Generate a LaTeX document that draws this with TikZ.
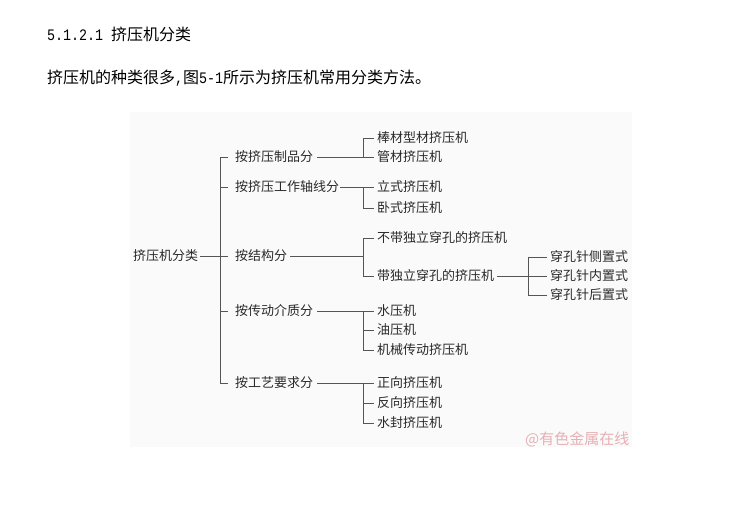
\documentclass[tikz,border=0pt]{standalone}
\usepackage{fontspec}
\setmainfont{Noto Sans CJK SC}
\newfontfamily\monofnt{Liberation Mono}
\newcommand\mymono[1]{\scalebox{0.833}[1]{\monofnt\fontsize{16}{16}\selectfont #1}}
\definecolor{txt}{HTML}{2A2A2A}
\definecolor{lncol}{HTML}{555555}
\definecolor{bgc}{HTML}{FAFAFA}
\definecolor{wm}{HTML}{E6B0B5}
\begin{document}
\begin{tikzpicture}[x=1pt,y=-1pt,
  head/.style={anchor=west,inner sep=0pt,font=\fontsize{16}{16}\selectfont,text=black},
  lbl/.style={anchor=west,inner sep=0pt,font=\fontsize{13}{13}\selectfont,text=txt},
  ln/.style={draw=lncol,line width=0.9pt}]
\useasboundingbox (0,0) rectangle (730,505);
\fill[bgc] (130,112) rectangle (632,447);

\node[head] (title) at (47,34) {\mymono{5.1.2.1}\hspace{8pt}挤压机分类};
\node[head] (intro) at (47,78) {挤压机的种类很多\mymono{,}图\mymono{5-1}所示为挤压机常用分类方法。};

% root and level 1
\node[lbl] (root) at (133,256) {挤压机分类};
\coordinate (t1) at (220,157);
\coordinate (t3) at (220,256);
\coordinate (t5) at (220,383);
\node[lbl] (a1) at (235,157) {按挤压制品分};
\node[lbl] (a2) at (235,187) {按挤压工作轴线分};
\node[lbl] (a3) at (235,256) {按结构分};
\node[lbl] (a4) at (235,311) {按传动介质分};
\node[lbl] (a5) at (235,383) {按工艺要求分};

\draw[ln,shorten <=2pt] (root.east) -- (t3);
\draw[ln] ([xshift=-7pt]a1.west) -| (t5) -- ([xshift=-7pt]a5.west);
\foreach \n in {a2,a3,a4} \draw[ln] (t1 |- \n.west) -- ([xshift=-7pt]\n.west);

% level 2
\coordinate (vx) at (363,0);
\node[lbl] (b11) at (377,138) {棒材型材挤压机};
\node[lbl] (b12) at (377,157) {管材挤压机};
\node[lbl] (b21) at (377,187) {立式挤压机};
\node[lbl] (b22) at (377,208) {卧式挤压机};
\node[lbl] (b31) at (377,238) {不带独立穿孔的挤压机};
\node[lbl] (b32) at (377,276) {带独立穿孔的挤压机};
\node[lbl] (b41) at (377,311) {水压机};
\node[lbl] (b42) at (377,330) {油压机};
\node[lbl] (b43) at (377,350) {机械传动挤压机};
\node[lbl] (b51) at (377,383) {正向挤压机};
\node[lbl] (b52) at (377,403) {反向挤压机};
\node[lbl] (b53) at (377,423) {水封挤压机};

\draw[ln,shorten <=4pt] (a1.east) -- (a1.east -| vx);
\draw[ln] ([xshift=-3pt]b11.west) -| (b12.west -| vx) -- ([xshift=-3pt]b12.west);

\draw[ln,shorten <=1pt] (a2.east) -- (a2.east -| vx);
\draw[ln] (b21.west -| vx) -- ([xshift=-3pt]b21.west);
\draw[ln] (b21.west -| vx) |- ([xshift=-3pt]b22.west);

\draw[ln,shorten <=3pt] (a3.east) -- (a3.east -| vx);
\draw[ln] ([xshift=-3pt]b31.west) -| (b32.west -| vx) -- ([xshift=-3pt]b32.west);

\draw[ln,shorten <=4pt] (a4.east) -- (a4.east -| vx);
\draw[ln] (b41.west -| vx) -- ([xshift=-3pt]b41.west);
\draw[ln] (b41.west -| vx) |- ([xshift=-3pt]b43.west);
\draw[ln] (b42.west -| vx) -- ([xshift=-3pt]b42.west);

\draw[ln,shorten <=4pt] (a5.east) -- (a5.east -| vx);
\draw[ln] (b51.west -| vx) -- ([xshift=-3pt]b51.west);
\draw[ln] (b51.west -| vx) |- ([xshift=-3pt]b53.west);
\draw[ln] (b52.west -| vx) -- ([xshift=-3pt]b52.west);

% level 3
\coordinate (wx) at (528,0);
\node[lbl] (c1) at (550,257) {穿孔针侧置式};
\node[lbl] (c2) at (550,276) {穿孔针内置式};
\node[lbl] (c3) at (550,295) {穿孔针后置式};
\draw[ln,shorten <=3pt] (b32.east) -- (b32.east -| wx);
\draw[ln] ([xshift=-3pt]c1.west) -| (c3.west -| wx) -- ([xshift=-3pt]c3.west);
\draw[ln] (c2.west -| wx) -- ([xshift=-3pt]c2.west);

\node[anchor=west,inner sep=0pt,text=wm,font=\fontsize{15}{15}\selectfont] (wmk) at (525,439) {@有色金属在线};
\end{tikzpicture}
\end{document}
